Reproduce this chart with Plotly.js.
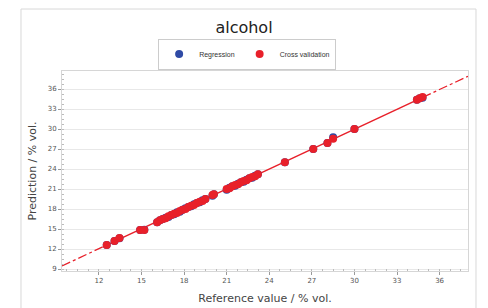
<!DOCTYPE html>
<html>
<head>
<meta charset="utf-8">
<script src="https://cdn.plot.ly/plotly-3.0.1.min.js"></script>
<style>html,body{margin:0;padding:0;background:#fff;}#chart{width:488px;height:308px;}</style>
</head>
<body>
<div id="chart"></div>
<script>
// Reference values (% vol.) and predictions
var refValues = [12.55, 13.1, 13.45, 14.9, 15.2, 16.1, 16.3, 16.5, 16.7, 16.9, 17.1, 17.3, 17.5, 17.7, 17.9, 18.1, 18.3, 18.5, 18.7, 18.9, 19.1, 19.3, 19.5, 20.0, 20.1, 21.0, 21.2, 21.4, 21.6, 21.8, 22.0, 22.2, 22.4, 22.6, 22.8, 23.0, 23.2, 25.1, 27.1, 28.1, 28.5, 30.0, 34.4, 34.6, 34.8];
var regressionPred = [12.6, 13.2, 13.6, 14.85, 14.9, 16.0, 16.3, 16.5, 16.7, 16.8, 17.1, 17.2, 17.5, 17.6, 17.9, 18.1, 18.3, 18.4, 18.7, 18.9, 19.0, 19.3, 19.5, 20.0, 20.2, 20.9, 21.2, 21.4, 21.5, 21.8, 22.0, 22.1, 22.4, 22.6, 22.7, 23.0, 23.2, 25.0, 27.0, 27.9, 28.75, 30.0, 34.4, 34.6, 34.7];
var cvPred = [12.6, 13.2, 13.65, 14.85, 14.85, 16.0, 16.3, 16.5, 16.6, 16.9, 17.1, 17.3, 17.4, 17.7, 17.9, 18.0, 18.3, 18.5, 18.6, 18.9, 19.1, 19.2, 19.5, 20.1, 20.2, 21.0, 21.1, 21.4, 21.6, 21.7, 22.0, 22.2, 22.3, 22.6, 22.8, 22.9, 23.2, 25.0, 27.0, 27.9, 28.55, 30.0, 34.4, 34.6, 34.8];
var fitX = [12.5, 34.8];
var fitY = [12.55, 34.75];
var extX1 = [9.4, 12.5];
var extY1 = [9.45, 12.55];
var extX2 = [34.8, 38.0];
var extY2 = [34.75, 37.9];
var tickVals = [12, 15, 18, 21, 24, 27, 30, 33, 36];
var yTickVals = [9, 12, 15, 18, 21, 24, 27, 30, 33, 36];

var red = '#e8202a', blue = '#2f4aa5';
var traces = [
  {x: extX1, y: extY1, mode: 'lines', line: {color: red, width: 1.3, dash: 'dashdot'}, showlegend: false, hoverinfo: 'skip'},
  {x: extX2, y: extY2, mode: 'lines', line: {color: red, width: 1.3, dash: 'dashdot'}, showlegend: false, hoverinfo: 'skip'},
  {x: fitX, y: fitY, mode: 'lines', line: {color: red, width: 1.5}, showlegend: false, hoverinfo: 'skip'},
  {x: refValues, y: regressionPred, mode: 'markers', name: 'Regression', marker: {color: blue, size: 8}},
  {x: refValues, y: cvPred, mode: 'markers', name: 'Cross validation', marker: {color: red, size: 8}}
];

var layout = {
  width: 488, height: 308,
  margin: {l: 62, r: 20, t: 71, b: 37},
  paper_bgcolor: '#fff', plot_bgcolor: '#fff',
  font: {family: 'DejaVu Sans, sans-serif', color: '#444'},
  title: {text: 'alcohol', font: {size: 16, color: '#222'}, x: 0.5, xanchor: 'center', y: 0.91, yanchor: 'middle'},
  showlegend: true,
  legend: {orientation: 'h', x: 0.456, xanchor: 'center', y: 1.085, yanchor: 'middle',
           bordercolor: '#cccccc', borderwidth: 1, font: {size: 7, color: '#333', family: 'Liberation Sans, sans-serif'},
           itemwidth: 30, tracegroupgap: 0, bgcolor: '#fff'},
  xaxis: {range: [9.4, 38.0], tickvals: tickVals, ticks: 'outside', ticklen: 3, tickcolor: '#999',
          tickfont: {size: 7, color: '#555'}, showgrid: false, zeroline: false,
          showline: true, linecolor: '#d6d6d6', mirror: true,
          minor: {dtick: 0.75, ticks: 'inside', ticklen: 2, tickcolor: '#bbb', showgrid: false},
          title: {text: 'Reference value / % vol.', font: {size: 11, color: '#444'}, standoff: 9}},
  yaxis: {range: [8.7, 38.7], tickvals: yTickVals, ticks: 'outside', ticklen: 3, tickcolor: '#999',
          tickfont: {size: 7, color: '#555'}, showgrid: true, gridcolor: '#e8e8e8', zeroline: false,
          showline: true, linecolor: '#d6d6d6', mirror: true,
          minor: {dtick: 0.75, ticks: 'inside', ticklen: 2, tickcolor: '#bbb', showgrid: false},
          title: {text: 'Prediction / % vol.', font: {size: 11, color: '#444'}, standoff: 8}},
  shapes: [
    {type: 'rect', xref: 'paper', yref: 'paper', x0: -0.101, x1: 1.0197, y0: -0.5, y1: 1.31,
     line: {color: '#d8d8d8', width: 1}, fillcolor: 'rgba(0,0,0,0)', layer: 'below'}
  ]
};

Plotly.newPlot('chart', traces, layout, {displayModeBar: false, staticPlot: true});
</script>
</body>
</html>
